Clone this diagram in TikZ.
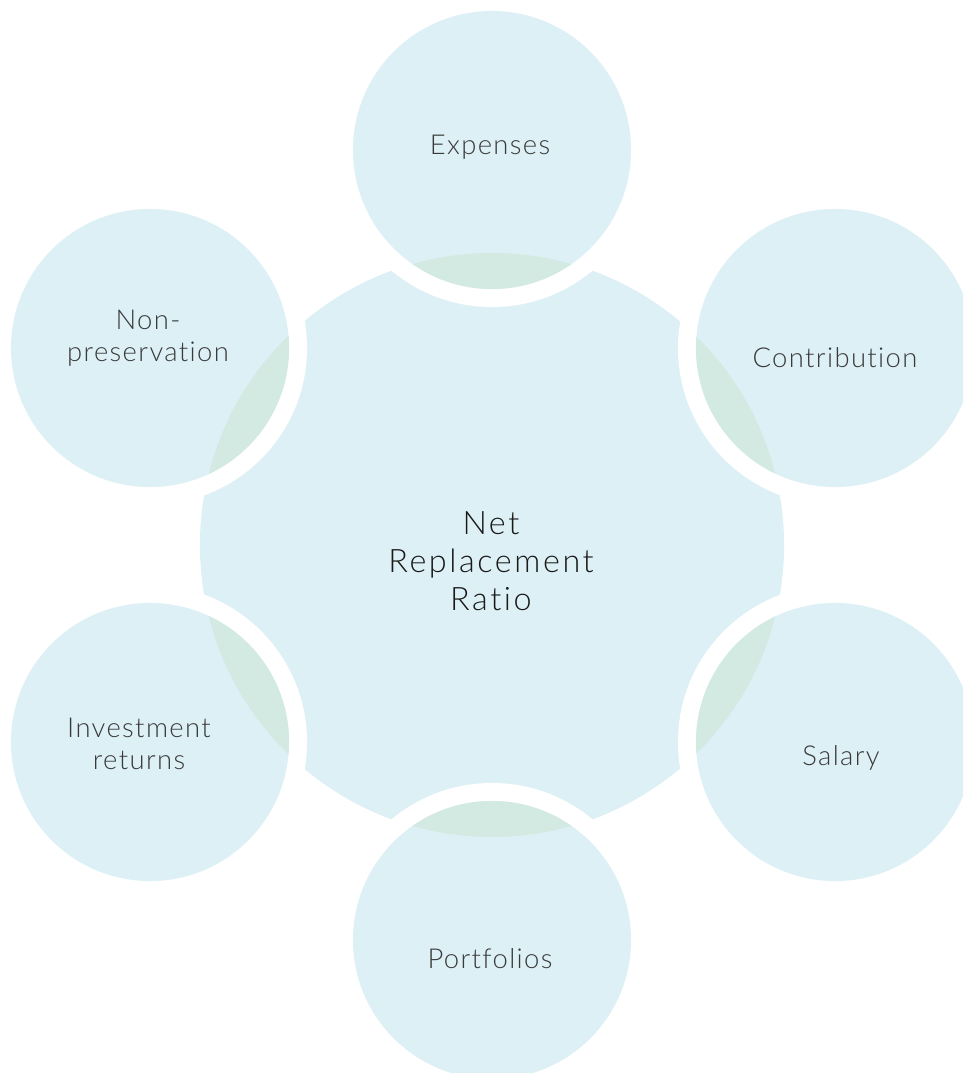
\documentclass[tikz,border=0pt]{standalone}
\usepackage{fontspec}
\IfFontExistsTF{Lato Light}{%
	\newfontfamily\petalfont{Lato Light}[LetterSpace=5, Ligatures={NoCommon,NoRare}]
	\newfontfamily\hubfont{Lato Light}[LetterSpace=8, Ligatures={NoCommon,NoRare}]}{%
	\newfontfamily\petalfont{Lato}[LetterSpace=5, Ligatures={NoCommon,NoRare}]
	\newfontfamily\hubfont{Lato}[LetterSpace=8, Ligatures={NoCommon,NoRare}]}
\usepackage{xcolor}
\definecolor{paleblue}{RGB}{221,240,245}
\definecolor{palegreen}{RGB}{211,234,227}
\definecolor{softgray}{RGB}{58,58,58}
\definecolor{darkgray}{RGB}{25,25,25}

\begin{document}
\begin{tikzpicture}[x=0.025cm, y=-0.025cm,
	hub/.style={circle, fill=paleblue, minimum size=14.6cm, inner sep=0pt, outer sep=0pt},
	gap/.style={circle, fill=white, minimum size=7.85cm, inner sep=0pt, outer sep=0pt},
	petal/.style={circle, fill=paleblue, minimum size=6.95cm, inner sep=0pt, outer sep=0pt},
	label/.style={text=softgray, align=center, font=\petalfont\fontsize{19.5}{22.5}\selectfont},
	hublabel/.style={text=darkgray, align=center, font=\hubfont\fontsize{23}{27}\selectfont}]
	\useasboundingbox (0,0) rectangle (963,1073);
	\clip (0,0) rectangle (963,1073);
	\node (ratio) [hub] at (492,545) {};
	% outer circles
	\node (expenses-gap) [gap] at (492,150) {};
	\node (expenses) [petal] at (492,150) {};
	\begin{scope}
		\clip (expenses.center) circle (139);
		\fill[palegreen] (ratio.center) circle (292);
	\end{scope}
	\node (contribution-gap) [gap] at (835,348) {};
	\node (contribution) [petal] at (835,348) {};
	\begin{scope}
		\clip (contribution.center) circle (139);
		\fill[palegreen] (ratio.center) circle (292);
	\end{scope}
	\node (salary-gap) [gap] at (835,742) {};
	\node (salary) [petal] at (835,742) {};
	\begin{scope}
		\clip (salary.center) circle (139);
		\fill[palegreen] (ratio.center) circle (292);
	\end{scope}
	\node (portfolios-gap) [gap] at (492,940) {};
	\node (portfolios) [petal] at (492,940) {};
	\begin{scope}
		\clip (portfolios.center) circle (139);
		\fill[palegreen] (ratio.center) circle (292);
	\end{scope}
	\node (returns-gap) [gap] at (150,742) {};
	\node (returns) [petal] at (150,742) {};
	\begin{scope}
		\clip (returns.center) circle (139);
		\fill[palegreen] (ratio.center) circle (292);
	\end{scope}
	\node (preservation-gap) [gap] at (150,348) {};
	\node (preservation) [petal] at (150,348) {};
	\begin{scope}
		\clip (preservation.center) circle (139);
		\fill[palegreen] (ratio.center) circle (292);
	\end{scope}
	% texts
	\node (ratio-text) [hublabel] at (491,561) {Net\\Replacement\\Ratio};
	\node (expenses-text) [label] at (490,147) {Expenses};
	\node (contribution-text) [label] at (835,358) {Contribution};
	\node (salary-text) [label] at (841,758) {Salary};
	\node (portfolios-text) [label] at (490,959) {Portfolios};
	\node (returns-text) [label] at (139,744) {Investment\\returns};
	\node (preservation-text) [label] at (148,338) {Non-\\preservation};
\end{tikzpicture}
\end{document}
